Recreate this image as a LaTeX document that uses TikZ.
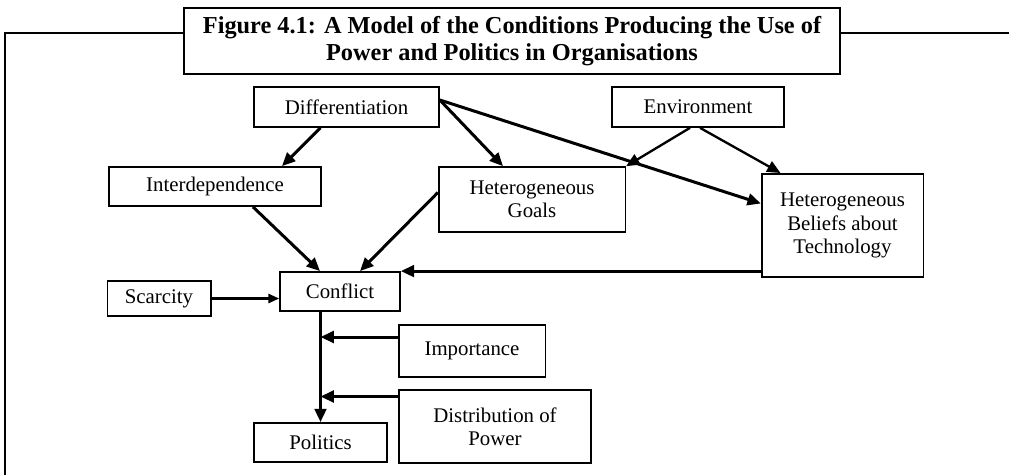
\documentclass[tikz,border=0pt]{standalone}
\usepackage{fontspec}
\setmainfont{Liberation Serif}
\usetikzlibrary{arrows.meta,calc}

\tikzset{
  box/.style={draw,line width=1pt,inner sep=2pt,align=center,font=\fontsize{12.5}{14}\selectfont},
  link/.style={line width=1.8pt,-{Triangle[length=8pt,width=7pt]}},
  thinlink/.style={line width=1.3pt,-{Triangle[length=6.5pt,width=5.5pt]}}
}

\begin{document}
\begin{tikzpicture}[x=0.6pt,y=-0.6pt]
\useasboundingbox (0,0) rectangle (1009,475);
\node[draw,line width=1.3pt,minimum width=394pt,minimum height=40pt,align=center,font=\fontsize{14.6}{16.5}\selectfont\bfseries] (title) at (512,41) {Figure 4.1: A Model of the Conditions Producing the Use of\\Power and Politics in Organisations};
\node[box,minimum width=111pt,minimum height=24pt] (diff) at (346.5,107) {Differentiation};
\node[box,minimum width=103pt,minimum height=24pt] (env) at (698,107) {Environment};
\node[box,minimum width=127pt,minimum height=23.5pt] (interdep) at (215,186.5) {Interdependence};
\node[box,minimum width=112pt,minimum height=39pt] (goals) at (532,199.5) {Heterogeneous\\Goals};
\node[box,minimum width=97pt,minimum height=62pt] (beliefs) at (842.5,225.5) {Heterogeneous\\Beliefs about\\Technology};
\node[box,minimum width=62pt,minimum height=21pt] (scarcity) at (159,298.5) {Scarcity};
\node[box,minimum width=72pt,minimum height=23.5pt] (conflict) at (340,291.5) {Conflict};
\node[box,minimum width=88pt,minimum height=31pt] (importance) at (472,351) {Importance};
\node[box,minimum width=115pt,minimum height=44pt] (distrib) at (495,426.5) {Distribution of\\Power};
\node[box,minimum width=80pt,minimum height=23.5pt] (politics) at (320.5,442.5) {Politics};

\draw[line width=1.3pt] (title.west |- 0,33) -- (5,33) -- (5,475);
\draw[line width=1.3pt] (title.east |- 0,33) -- (1009,33);

\draw[link] ($(diff.south)+(-26,0)$) -- ($(interdep.north)+(67,0)$);
\draw[link] ($(diff.east)+(0,-7)$) -- ($(goals.north)+(-29,0)$);
\draw[link] ($(diff.east)+(0,-7)$) -- ($(beliefs.west)+(0,-22)$);
\draw[link,line width=1.4pt] ($(env.south)+(-8,0)$) -- (goals.north east);
\draw[link,line width=1.4pt] ($(env.south)+(2,0)$) -- ($(beliefs.north)+(-62,0)$);
\draw[link] ($(interdep.south)+(38,0)$) -- ($(conflict.north)+(-20,0)$);
\draw[link] ($(goals.west)+(0,-7)$) -- ($(conflict.north)+(20,0)$);
\coordinate (techout) at (beliefs.west |- conflict.north east);
\draw[link] (techout) -- (conflict.north east);
\draw[thinlink] (scarcity.east) -- (scarcity.east -| conflict.west);
\draw[link] (politics.north |- conflict.south) -- (politics.north);
\coordinate (impin) at ($(importance.west)+(0,-14)$);
\coordinate (distin) at ($(distrib.west)+(0,-30)$);
\draw[link] (impin) -- (impin -| politics.north);
\draw[link] (distin) -- (distin -| politics.north);
\end{tikzpicture}
\end{document}
